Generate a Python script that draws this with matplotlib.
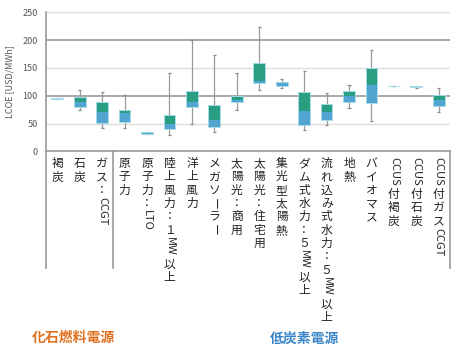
import matplotlib
matplotlib.use('Agg')
import matplotlib.pyplot as plt
import numpy as np

plt.rcParams['font.family'] = ['Noto Sans CJK JP', 'DejaVu Sans']

# LCOE ranges (USD/MWh)
categories = ['褐炭', '石炭', 'ガス：CCGT', '原子力', '原子力：LTO', '陸上風力：１MW以上',
              '洋上風力', 'メガソーラー', '太陽光：商用', '太陽光：住宅用', '集光型太陽熱',
              'ダム式水力：５MW以上', '流れ込み式水力：５MW以上', '地熱', 'バイオマス',
              'CCUS付褐炭', 'CCUS付石炭', 'CCUS付ガスCCGT']
whisker_lo = [94, 75, 42, 42, 31, 30, 49, 35, 75, 110, 113, 39, 47, 78, 54, 117, 113, 71]
q1 = [94, 79, 51, 53, 32, 40, 79, 44, 88, 122, 117, 48, 56, 89, 87, 117, 115, 82]
median = [95, 89, 71, 68, 33, 50, 88, 56, 93, 126, 122, 72, 70, 99, 119, 117, 116, 92]
q3 = [96, 98, 89, 75, 34, 65, 109, 84, 99, 158, 125, 107, 85, 109, 150, 117, 117, 102]
whisker_hi = [96, 111, 107, 102, 34, 141, 201, 173, 141, 224, 130, 144, 104, 120, 183, 117, 118, 113]

GREEN = '#2a9e80'
BLUE = '#52a5d0'
W, H = 458, 356

fig = plt.figure(figsize=(W / 100, H / 100), dpi=100)
ax = fig.add_axes([46 / W, 1 - 151.3 / H, 404 / W, 139 / H])

x = np.arange(len(categories))
ax.set_xlim(-0.5, len(categories) - 0.5)
ax.set_ylim(0, 250)

# grid lines: 200/100 darker
for v in [50, 150, 250]:
    ax.axhline(v, color='#dedede', lw=1.0, zorder=0)
for v in [100, 200]:
    ax.axhline(v, color='#9a9a9a', lw=1.2, zorder=0)

ax.vlines(x, whisker_lo, whisker_hi, color='#9a9a9a', lw=0.9, zorder=1)
ax.hlines(whisker_lo, x - 0.07, x + 0.07, color='#8a8a8a', lw=0.9, zorder=1)
ax.hlines(whisker_hi, x - 0.07, x + 0.07, color='#8a8a8a', lw=0.9, zorder=1)

lo = np.array(q1)
md = np.array(median)
hi = np.array(q3)
ax.bar(x, md - lo, bottom=lo, width=0.52, color=BLUE, edgecolor='none', zorder=2)
ax.bar(x, hi - md, bottom=md, width=0.52, color=GREEN, edgecolor='none', zorder=2)
ax.bar(x, hi - lo, bottom=lo, width=0.52, fill=False, edgecolor='#a6dbe8', lw=0.7, zorder=3)

for s in ['top', 'right']:
    ax.spines[s].set_visible(False)
ax.spines['left'].set_visible(False)
ax.spines['bottom'].set_color('#9a9a9a')
ax.spines['bottom'].set_linewidth(1.2)

ax.set_xticks([])
ax.set_yticks([0, 50, 100, 150, 200, 250])
ax.tick_params(axis='y', length=0, labelsize=6.5, labelcolor='#555555', pad=6)
ax.set_ylabel('LCOE [USD/MWh]', fontsize=6.5, color='#555555', labelpad=6)

# category frame lines, extending below the plot
tr = ax.get_xaxis_transform()
bottom_y = -(268 - 151.3) / 139
for xv in [-0.5, 2.5, len(categories) - 0.5]:
    top = 1.0 if xv == -0.5 else 0.0
    ax.plot([xv, xv], [bottom_y, top], color='#9a9a9a', lw=1.2, transform=tr, clip_on=False)

# vertical (tategaki) category labels
renderer = fig.canvas.get_renderer()
fs = 8.5
pitch = 13.3
for i, label in enumerate(categories):
    px = ax.transData.transform((i, 0))[0]
    py = 157.0
    j = 0
    while j < len(label):
        ch = label[j]
        if ch.isascii() and ch.isalpha():
            k = j
            while k < len(label) and label[k].isascii() and label[k].isalpha():
                k += 1
            t = fig.text(px / W, 1 - py / H, label[j:k], rotation=-90, ha='center', va='top',
                         fontsize=fs - 0.5, color='#222222')
            ext = t.get_window_extent(renderer)
            py += ext.height + 2
            j = k
        else:
            rot = -90 if ch == 'ー' else 0
            fig.text(px / W, 1 - (py + pitch / 2) / H, ch, rotation=rot, ha='center', va='center',
                     fontsize=fs, color='#222222')
            py += pitch
            j += 1

fig.text(73 / W, 1 - 338 / H, '化石燃料電源', ha='center', va='center', fontsize=10,
         fontweight='bold', color='#e0701e')
fig.text(305 / W, 1 - 339 / H, '低炭素電源', ha='center', va='center', fontsize=10,
         fontweight='bold', color='#3a86c8')

fig.savefig('out.png', dpi=100)
